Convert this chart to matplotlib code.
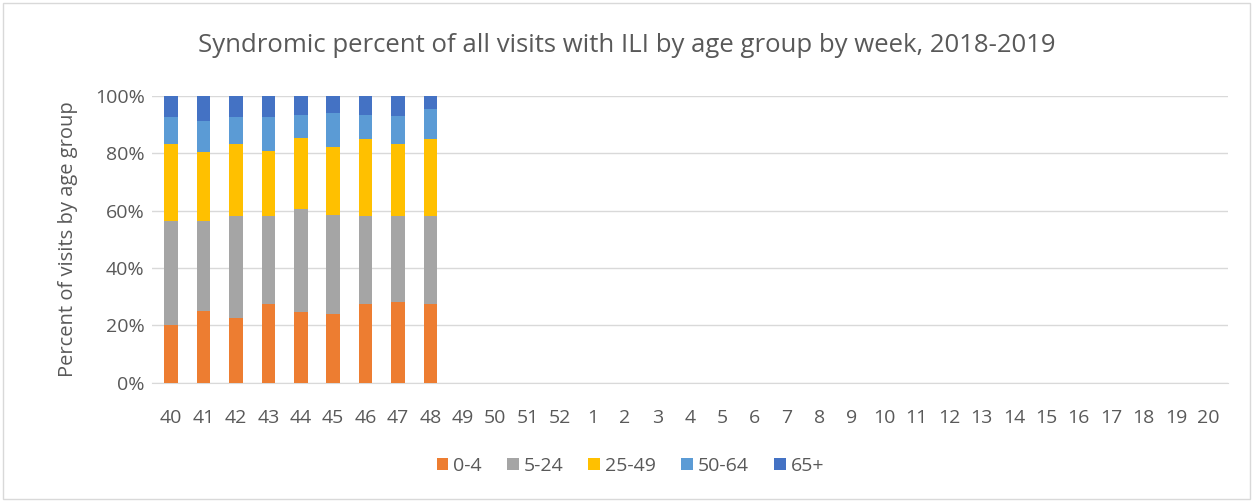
import numpy as np
import matplotlib

matplotlib.use('Agg')
import matplotlib.pyplot as plt
from matplotlib.patches import Rectangle
from matplotlib.ticker import PercentFormatter

plt.rcParams['font.family'] = ['Open Sans', 'DejaVu Sans']

weeks = [str(w) for w in list(range(40, 53)) + list(range(1, 21))]

# percent of visits per age group, only weeks 40-48 have data
age_0_4 = [20.1, 24.9, 22.7, 27.6, 24.6, 23.8, 27.6, 28.1, 27.3]
age_5_24 = [36.2, 31.4, 35.3, 30.4, 36.1, 34.8, 30.4, 29.9, 30.7]
age_25_49 = [26.9, 24.1, 25.2, 22.9, 24.7, 23.7, 26.9, 25.2, 26.9]
age_50_64 = [9.4, 10.8, 9.4, 11.7, 8.0, 11.6, 8.5, 9.7, 10.3]
age_65_plus = [7.4, 8.8, 7.4, 7.4, 6.6, 6.1, 6.6, 7.1, 4.8]

groups = {
    "0-4": (age_0_4, '#ED7D31'),
    "5-24": (age_5_24, '#A5A5A5'),
    "25-49": (age_25_49, '#FFC000'),
    "50-64": (age_50_64, '#5B9BD5'),
    "65+": (age_65_plus, '#4472C4'),
}

fig = plt.figure(figsize=(12.53, 5.01), dpi=100)
ax = fig.add_axes([0.121, 0.236, 0.859, 0.573])

x = np.arange(len(weeks))
bottom = np.zeros(len(age_0_4))
for label, (vals, color) in groups.items():
    vals = np.array(vals)
    ax.bar(x[:len(vals)], vals, 0.42, bottom=bottom, color=color, label=label, zorder=3)
    bottom += vals

ax.set_xlim(-0.6, len(weeks) - 0.4)
ax.set_ylim(0, 100)
ax.set_yticks(range(0, 101, 20))
ax.yaxis.set_major_formatter(PercentFormatter(decimals=0))
ax.set_xticks(x)
ax.set_xticklabels(weeks)
ax.grid(axis='y', color='#D9D9D9', linewidth=1, zorder=0)
for s in ['top', 'right', 'left']:
    ax.spines[s].set_visible(False)
ax.spines['bottom'].set_color('#D9D9D9')
ax.tick_params(length=0, labelsize=14, colors='#595959')
ax.tick_params(axis='y', pad=5)
ax.tick_params(axis='x', pad=19)
ax.set_ylabel("Percent of visits by age group", fontsize=14.5, color='#595959', labelpad=12)

fig.text(0.5, 0.91, "Syndromic percent of all visits with ILI by age group by week, 2018-2019",
         ha='center', va='center', fontsize=18.5, color='#595959')

ax.legend(loc='center', bbox_to_anchor=(0.5, 0.5), bbox_transform=fig.transFigure,
          ncol=5, frameon=False, fontsize=14, handlelength=0.6, handleheight=0.6,
          handletextpad=0.25, columnspacing=1.3, labelcolor='#595959')
ax.get_legend().set_bbox_to_anchor((0.503, 0.07), transform=fig.transFigure)

fig.patches.append(Rectangle((0.002, 0.004), 0.996, 0.99, transform=fig.transFigure,
                             fill=False, edgecolor='#D9D9D9', linewidth=1))

fig.savefig("out.png", dpi=100)
